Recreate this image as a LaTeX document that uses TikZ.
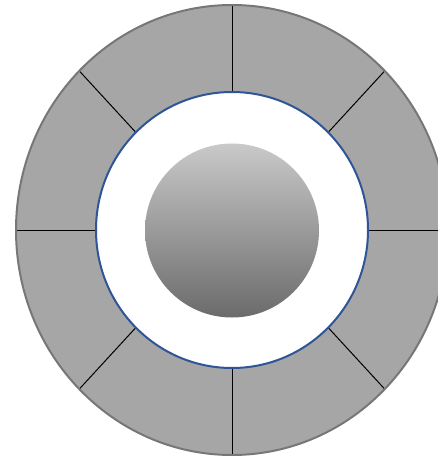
\documentclass[tikz,border=0pt]{standalone}
\usetikzlibrary{calc}
\definecolor{ringfill}{HTML}{A6A6A6}
\definecolor{ringedge}{HTML}{777777}
\definecolor{innerblue}{HTML}{2F5597}
\definecolor{gtop}{HTML}{C9C9C9}
\definecolor{gbot}{HTML}{6B6B6B}
\tikzset{
  outerring/.style={fill=ringfill, draw=ringedge, line width=2pt},
  innerring/.style={fill=white, draw=innerblue, line width=2pt},
  divider/.style={draw=black, line width=1pt},
  core/.style={top color=gtop, bottom color=gbot, draw=none}
}
\begin{document}
\begin{tikzpicture}[x=1pt,y=-1pt]
\useasboundingbox (0,0) rectangle (438,457);
\coordinate (c) at (232,230);
\fill[ringfill] (c) ellipse [x radius=216, y radius=225];
\foreach \a in {0,45,...,315}{
  \draw[divider] ($(c)+({136*cos(\a)},{138*sin(\a)})$) -- ($(c)+({216*cos(\a)},{225*sin(\a)})$);
}
\draw[ringedge, line width=2pt] (c) ellipse [x radius=216, y radius=225];
\draw[innerring] (c) ellipse [x radius=136, y radius=138];
\shade[core] (232,230.5) circle [radius=87];
\end{tikzpicture}
\end{document}
